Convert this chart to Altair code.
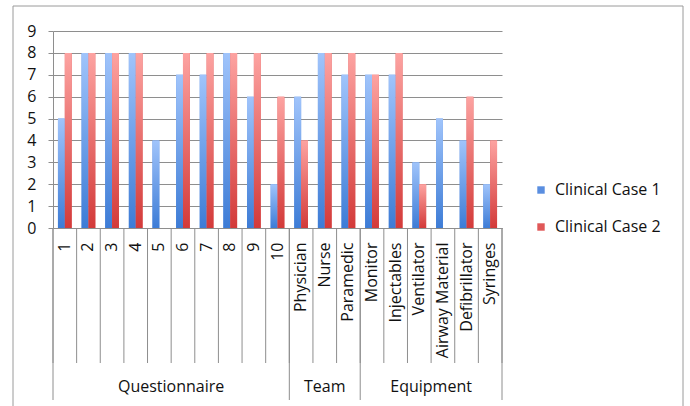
import altair as alt
import pandas as pd

categories = ["1", "2", "3", "4", "5", "6", "7", "8", "9", "10",
              "Physician", "Nurse", "Paramedic",
              "Monitor", "Injectables", "Ventilator", "Airway Material", "Defibrillator", "Syringes"]
groups = ["Questionnaire"] * 10 + ["Team"] * 3 + ["Equipment"] * 6
case1 = [5, 8, 8, 8, 4, 7, 7, 8, 6, 2, 6, 8, 7, 7, 7, 3, 5, 4, 2]
case2 = [8, 8, 8, 8, 0, 8, 8, 8, 8, 6, 4, 8, 8, 7, 8, 2, 0, 6, 4]
series_names = ["Clinical Case 1", "Clinical Case 2"]
group_order = ["Questionnaire", "Team", "Equipment"]
y_ticks = [0, 1, 2, 3, 4, 5, 6, 7, 8, 9]

rows = []
for c, v1, v2 in zip(categories, case1, case2):
    rows.append({"category": c, "series": series_names[0], "value": v1})
    rows.append({"category": c, "series": series_names[1], "value": v2})
df = pd.DataFrame(rows)

# boundaries between categories, and between groups
group_edges = [0]
for g in group_order:
    group_edges.append(group_edges[-1] + groups.count(g))
bounds = pd.DataFrame({"pos": list(range(len(categories) + 1))})
bounds["kind"] = ["group" if p in group_edges else "cat" for p in bounds["pos"]]
centers = pd.DataFrame({
    "group": group_order,
    "center": [(group_edges[i] + group_edges[i + 1]) / 2 for i in range(len(group_order))],
})

W, H = 449, 197
FONT = "Open Sans"
FS = 16
GRID = "#8e8e8e"

xband = alt.X("category:N", sort=categories, scale=alt.Scale(paddingInner=0, paddingOuter=0),
              axis=alt.Axis(title=None, labelAngle=-90, ticks=False, tickSize=0, labelPadding=14,
                            labelFont=FONT, labelFontSize=FS, labelColor="#111",
                            domainColor=GRID, grid=False, labelOverlap=False))
xoff = alt.XOffset("series:N", sort=series_names, scale=alt.Scale(paddingOuter=0.72, paddingInner=0))
yenc = alt.Y("value:Q", scale=alt.Scale(domain=[0, 9], nice=False),
             axis=alt.Axis(title=None, values=y_ticks, tickCount=30, format="d", tickSize=5, tickColor=GRID,
                           domainColor=GRID, gridColor=GRID, labelPadding=12, labelOverlap=False,
                           labelFont=FONT, labelFontSize=FS, labelColor="#111"))

def grad(top, bottom):
    return alt.Gradient(gradient="linear", x1=0, x2=0, y1=0, y2=1,
                        stops=[alt.GradientStop(color=top, offset=0),
                               alt.GradientStop(color=bottom, offset=1)])

base = alt.Chart(df).mark_bar().encode(
    x=xband, xOffset=xoff, y=yenc,
    color=alt.Color("series:N", sort=series_names,
                    scale=alt.Scale(domain=series_names, range=["#5a8ee0", "#e05858"]),
                    legend=alt.Legend(title=None, orient="none", legendX=480, legendY=151,
                                      symbolType="square", symbolSize=55, rowPadding=21,
                                      labelFont=FONT, labelFontSize=FS, labelColor="#111",
                                      labelOffset=6)),
)
blue = alt.Chart(df).transform_filter(alt.datum.series == series_names[0]).mark_bar(
    color=grad("#a0c4fb", "#3d7cd6")).encode(x=xband, xOffset=xoff, y=yenc)
red = alt.Chart(df).transform_filter(alt.datum.series == series_names[1]).mark_bar(
    color=grad("#fda3a1", "#d33a39")).encode(x=xband, xOffset=xoff, y=yenc)

xq = alt.X("pos:Q", scale=alt.Scale(domain=[0, len(categories)], nice=False, zero=False), axis=None)
cat_rules = alt.Chart(bounds).mark_rule(color=GRID, strokeWidth=1).encode(
    x=xq, y=alt.value(H), y2=alt.value(H + 135))
grp_rules = alt.Chart(bounds).transform_filter(alt.datum.kind == "group").mark_rule(
    color=GRID, strokeWidth=1).encode(x=xq, y=alt.value(H), y2=alt.value(H + 172))
grp_text = alt.Chart(centers).mark_text(font=FONT, fontSize=FS, color="#111", baseline="middle").encode(
    x=alt.X("center:Q", scale=alt.Scale(domain=[0, len(categories)], nice=False, zero=False), axis=None),
    y=alt.value(H + 159), text="group:N")

frame = alt.Chart(pd.DataFrame({"a": [0]})).mark_rect(fill=None, stroke="#9a9a9a", strokeWidth=1).encode(
    x=alt.value(-40), x2=alt.value(630), y=alt.value(-25), y2=alt.value(H + 200))

bars = alt.layer(base, blue, red)
decor = alt.layer(cat_rules, grp_rules, grp_text)

chart = alt.layer(bars, decor, frame).resolve_scale(x="independent").properties(
    width=W, height=H,
    padding={"left": 53, "top": 31, "right": 188, "bottom": 178},
    autosize=alt.AutoSizeParams(type="none"),
    background="white",
).configure_view(stroke=None)

chart.save("out.html", embed_options={"renderer": "svg", "actions": False})
